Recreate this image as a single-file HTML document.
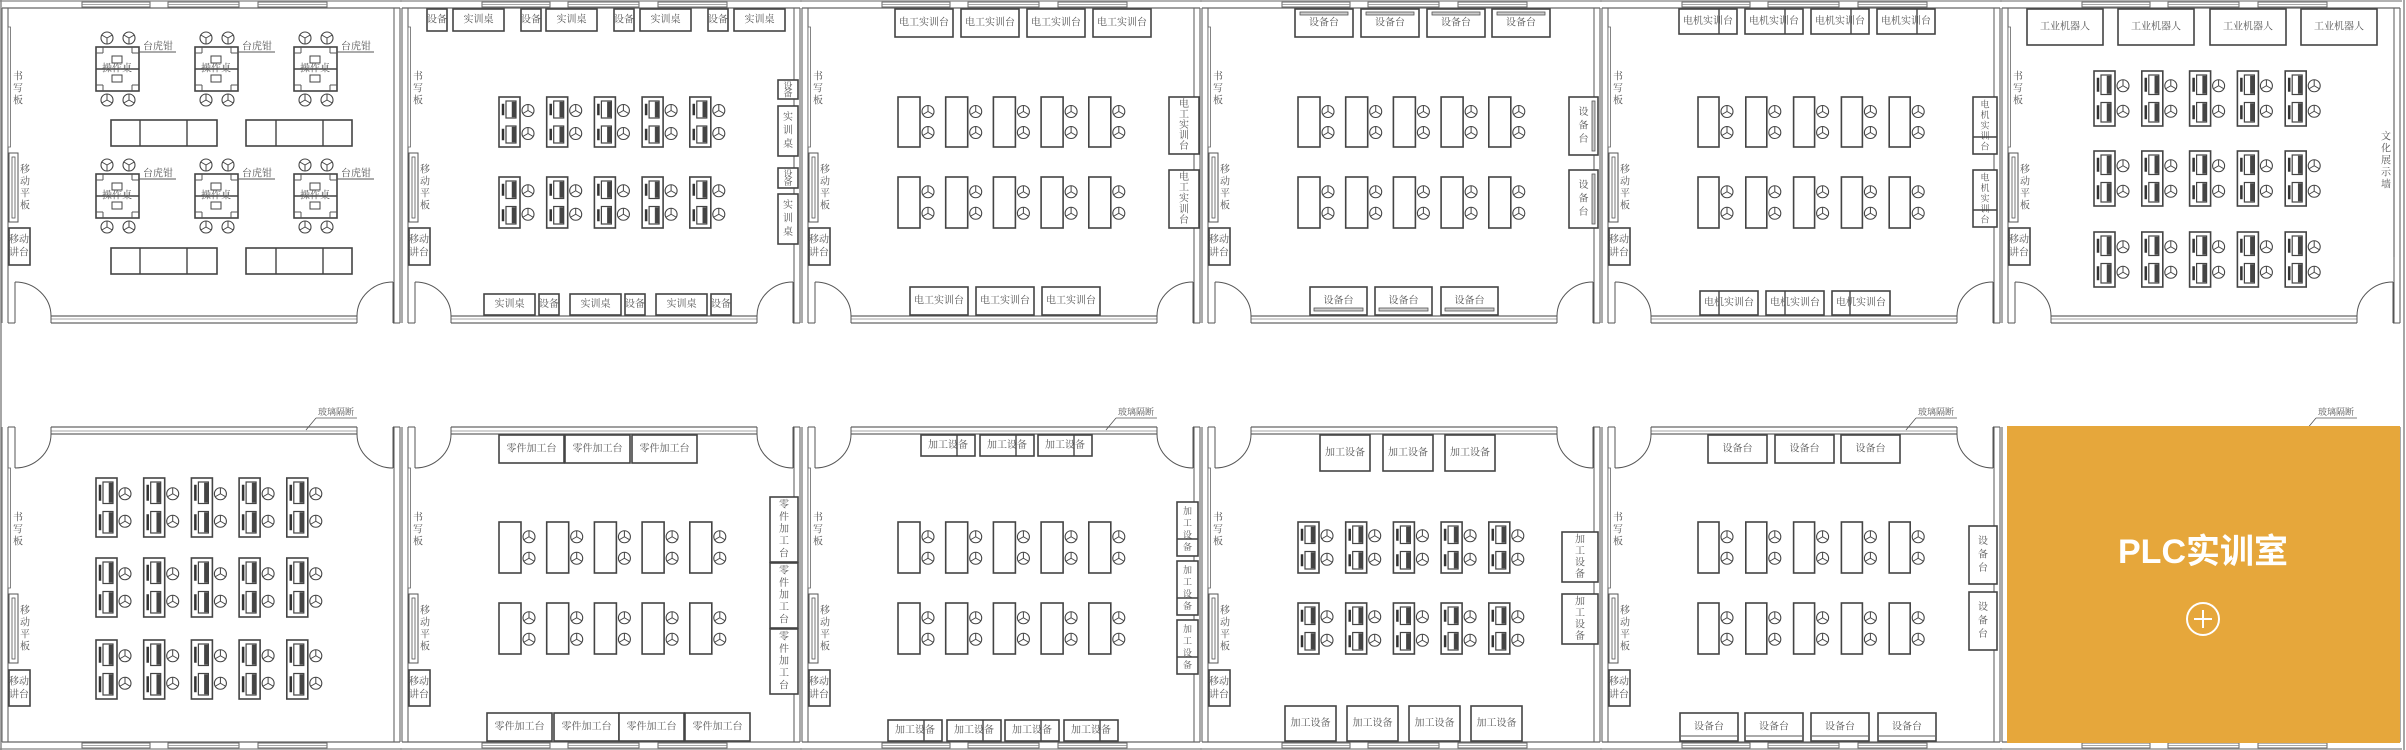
<!DOCTYPE html>
<html><head><meta charset="utf-8">
<style>
html,body{margin:0;padding:0;background:#fff;width:2406px;height:750px;overflow:hidden}
svg text{font-family:"Liberation Serif","Noto Serif CJK SC","Noto Sans CJK SC",serif;fill:#555}
</style></head>
<body>
<svg id="s" xmlns="http://www.w3.org/2000/svg" width="2406" height="750" viewBox="0 0 2406 750"></svg>
<script>
var S=document.getElementById('s'),out=[];
function R(x,y,w,h,sw,fill,st){out.push('<rect x="'+x+'" y="'+y+'" width="'+w+'" height="'+h+'" fill="'+(fill||'none')+'" stroke="'+(st||'#444')+'" stroke-width="'+(sw||1.3)+'"/>');}
function L(x1,y1,x2,y2,sw,c){out.push('<line x1="'+x1+'" y1="'+y1+'" x2="'+x2+'" y2="'+y2+'" stroke="'+(c||'#555')+'" stroke-width="'+(sw||1)+'"/>');}
function P(d,sw){out.push('<path d="'+d+'" fill="none" stroke="#555" stroke-width="'+(sw||1)+'"/>');}
function T(x,y,s,fs){out.push('<text x="'+x+'" y="'+y+'" font-size="'+(fs||10)+'" text-anchor="middle" dominant-baseline="central">'+s+'</text>');}
function VT(x,y,s,fs,lh){for(var i=0;i<s.length;i++)T(x,y+i*lh,s[i],fs);}
function BX(x,y,w,h,s,fs){R(x,y,w,h,1.6,'#fff');T(x+w/2,y+h/2,s,fs||10);}
function VB(x,y,w,h,s,fs){R(x,y,w,h,1.6,'#fff');var n=s.length,lh=Math.min(fs*1.35,(h-4)/n);VT(x+w/2,y+h/2-(n-1)*lh/2,s,fs,lh);}
function chair(cx,cy,r,flip){out.push('<circle cx="'+cx+'" cy="'+cy+'" r="'+r+'" fill="none" stroke="#444" stroke-width="1.1"/>');
 var a=flip?[90,210,330]:[270,30,150];a.forEach(function(d){var t=d*Math.PI/180;L(cx,cy,cx+r*Math.cos(t),cy+r*Math.sin(t),1,'#444');});}
function compDesk(x,y,w,h){R(x,y,w,h,1.6,'#fff');var hh=h/2;
 for(var k=0;k<2;k++){var yy=y+k*hh+4,uh=hh-8;R(x+3,yy+3,2,uh-6,0.5,'#333','#333');R(x+7,yy,10,uh,1.2,'#fff');R(x+13,yy+1,4,uh-2,0.5,'#444','#444');}
 chair(x+w+8,y+hh/2+1,6);chair(x+w+8,y+hh*1.5-1,6);}
function plainDesk(x,y,w,h){R(x,y,w,h,1.6,'#fff');var hh=h/2;chair(x+w+8,y+hh/2+2,6);chair(x+w+8,y+hh*1.5-2,6);}
function shell(x0,bottom,glass){
 var fy=function(y){return bottom?750-y:y;};
 L(x0+2,fy(8),x0+2,fy(323),1);L(x0+8,fy(8),x0+8,fy(323),1);
 L(x0+394,fy(8),x0+394,fy(323),1);L(x0+400,fy(8),x0+400,fy(323),1);
 L(x0+2,fy(8),x0+400,fy(8),1.2,'#666');L(x0,fy(1),x0+402,fy(1),1.5,'#999');
 [[82,150],[168,239],[258,327]].forEach(function(w){R(x0+w[0],Math.min(fy(2),fy(7)),w[1]-w[0],5,1,'#fff','#666');L(x0+w[0],fy(4.5),x0+w[1],fy(4.5),0.8,'#888');});
 L(x0+51,fy(316),x0+357,fy(316),1.2,'#666');L(x0+51,fy(319),x0+357,fy(319),0.8,'#888');L(x0+51,fy(323),x0+357,fy(323),1.2,'#666');
 L(x0+51,fy(316),x0+51,fy(323));L(x0+357,fy(316),x0+357,fy(323));
 L(x0+8,fy(323),x0+15,fy(323));L(x0+393,fy(323),x0+400,fy(323));
 L(x0+15,fy(282),x0+15,fy(323));L(x0+393,fy(282),x0+393,fy(323));
 P('M'+(x0+15)+' '+fy(282)+' A36 34 0 0 '+(bottom?0:1)+' '+(x0+51)+' '+fy(316));
 P('M'+(x0+393)+' '+fy(282)+' A36 34 0 0 '+(bottom?1:0)+' '+(x0+357)+' '+fy(316));
 var b=bottom?427:8,o=bottom?[41,161,167,236,243,279]:[19,139,145,214,220,257];
 R(x0+8,b+o[0],2.5,o[1]-o[0],0.8,'#fff','#666');VT(x0+18,b+o[0]+50,'书写板',10,12);
 R(x0+9,b+o[2],9,o[3]-o[2],1,'#fff','#555');R(x0+12,b+o[2]+4,3,o[3]-o[2]-8,0.8,'#fff','#555');VT(x0+25,b+o[2]+17,'移动平板',10,12);
 R(x0+9,b+o[4],21,o[5]-o[4],1.6,'#fff');T(x0+19,b+o[4]+12,'移动',10);T(x0+19,b+o[4]+25,'讲台',10);
 if(glass){T(x0+336,412,'玻璃隔断',9);L(x0+316,418,x0+357,418,0.8);L(x0+316,418,x0+306,430,0.8);}
}
var i,j;
for(i=0;i<6;i++){shell(i*400,false,false);}
for(i=0;i<6;i++){shell(i*400,true,[1,0,1,0,1,1][i]);}
L(1,0,1,750,1.5,'#888');L(2404,0,2404,750,1.5,'#888');
[96,195,294].forEach(function(x){[47,174].forEach(function(y){
 R(x,y,43,44,1.6,'#fff');L(x,y+22,x+43,y+22,1.4,'#444');R(x+16,y+9,10,7,1,'#fff');R(x+16,y+28,10,7,1,'#fff');
 L(x+36,y,x+36,y+6);L(x+36,y+6,x+43,y+6);L(x+7,y,x+7,y+6);L(x,y+6,x+7,y+6);L(x,y+38,x+7,y+38);L(x+7,y+38,x+7,y+44);L(x+36,y+38,x+43,y+38);L(x+36,y+38,x+36,y+44);
 T(x+21,y+22,'操作桌',10);
 chair(x+11,y-9,6,1);chair(x+33,y-9,6,1);chair(x+11,y+53,6);chair(x+33,y+53,6);
 T(x+62,y,'台虎钳',10);L(x+43,y+5,x+80,y+5,1);});});
[120,248].forEach(function(y){[[111,140,187,217],[246,276,323,352]].forEach(function(a){R(a[0],y,a[3]-a[0],26,1.6,'#fff');L(a[1],y,a[1],y+26,1.4,'#444');L(a[2],y,a[2],y+26,1.4,'#444');});});
[[427,453],[521,546],[614,640],[708,734]].forEach(function(a){BX(a[0],9,20,22,'设备',10);BX(a[1],9,51,22,'实训桌',10);});
VB(778,80,20,19,'设备',9);VB(778,106,20,50,'实训桌',10);VB(778,168,20,20,'设备',9);VB(778,194,20,50,'实训桌',10);
[[484,539],[570,625],[656,711]].forEach(function(a){BX(a[0],294,51,21,'实训桌',10);BX(a[1],294,20,21,'设备',10);});
for(j=0;j<5;j++){compDesk(499+j*47.7,97,21,50);compDesk(499+j*47.7,177,21,51);}
[895,961,1027,1093].forEach(function(x){BX(x,9,58,28,'电工实训台',10);});
VB(1169,97,30,57,'电工实训台',10);VB(1169,170,30,58,'电工实训台',10);
[910,976,1042].forEach(function(x){BX(x,287,58,28,'电工实训台',10);});
for(j=0;j<5;j++){plainDesk(898+j*47.7,97,22,50);plainDesk(898+j*47.7,177,22,51);}
[1295,1361,1427,1492].forEach(function(x){BX(x,9,58,28,'设备台',10);R(x+5,12,48,3,0.8,'#ccc','#555');});
[97,170].forEach(function(y){VB(1569,y,29,58,'设备台',10);R(1592,y+4,3,50,0.8,'#ccc','#555');});
[1310,1375,1441].forEach(function(x){BX(x,287,57,28,'设备台',10);R(x+4,308,49,3,0.8,'#ccc','#555');});
for(j=0;j<5;j++){plainDesk(1298+j*47.7,97,22,50);plainDesk(1298+j*47.7,177,22,51);}
[[1679,1719],[1745,1785],[1811,1851],[1877,1917]].forEach(function(a){BX(a[0],9,58,25,'电机实训台',10);L(a[1],9,a[1],34,1.4,'#444');});
[97,170].forEach(function(y){VB(1973,y,24,57,'电机实训台',9);L(1973,y+40,1997,y+40,1.4,'#444');});
[[1700,1719],[1766,1785],[1832,1850]].forEach(function(a){BX(a[0],291,58,24,'电机实训台',10);L(a[1],291,a[1],315,1.4,'#444');});
for(j=0;j<5;j++){plainDesk(1698+j*47.8,97,21,50);plainDesk(1698+j*47.8,177,21,51);}
[2027,2118,2210,2301].forEach(function(x){BX(x,9,76,36,'工业机器人',10);});
for(j=0;j<5;j++){[71,151,232].forEach(function(y){compDesk(2094+j*47.8,y,21,55);});}
L(2394,70,2394,257,1.2,'#666');VT(2386,137,'文化展示墙',10,12);
for(j=0;j<5;j++){[478,558,640].forEach(function(y){compDesk(96+j*47.7,y,21,59);});}
[499,565,632].forEach(function(x){BX(x,435,65,28,'零件加工台',10);});
[497,563,629].forEach(function(y){VB(770,y,28,65,'零件加工台',10);});
[487,554,619,685].forEach(function(x){BX(x,713,65,28,'零件加工台',10);});
for(j=0;j<5;j++){plainDesk(499+j*47.7,522,22,51);plainDesk(499+j*47.7,603,22,51);}
[[921,957],[980,1016],[1038,1074]].forEach(function(a){BX(a[0],435,54,21,'加工设备',10);L(a[1],435,a[1],456,1.4,'#444');});
[[502,539],[561,598],[620,657]].forEach(function(a){VB(1177,a[0],21,54,'加工设备',9);L(1177,a[1],1198,a[1],1.4,'#444');});
[[888,924],[947,983],[1005,1041],[1064,1100]].forEach(function(a){BX(a[0],720,54,21,'加工设备',10);L(a[1],720,a[1],741,1.4,'#444');});
for(j=0;j<5;j++){plainDesk(898+j*47.7,522,22,51);plainDesk(898+j*47.7,603,22,51);}
[1320,1383,1445].forEach(function(x){BX(x,435,50,36,'加工设备',10);});
VB(1562,532,36,50,'加工设备',10);VB(1562,594,36,50,'加工设备',10);
[1285,1347,1409,1471].forEach(function(x){BX(x,706,51,35,'加工设备',10);});
for(j=0;j<5;j++){compDesk(1298+j*47.7,522,21,51);compDesk(1298+j*47.7,603,21,51);}
[1708,1775,1841].forEach(function(x){BX(x,435,59,28,'设备台',10);});
VB(1969,526,28,58,'设备台',10);VB(1969,592,28,58,'设备台',10);
[1680,1745,1811,1878].forEach(function(x){BX(x,713,58,28,'设备台',10);L(x+1,736,x+57,736,1,'#555');});
for(j=0;j<5;j++){plainDesk(1698+j*47.8,522,21,51);plainDesk(1698+j*47.8,603,21,51);}
out.push('<rect x="2007" y="426" width="393" height="317" fill="#E6A73B"/>');
out.push('<text x="2203" y="552" font-size="34" font-weight="bold" text-anchor="middle" dominant-baseline="central" style="fill:#fff;font-family:\'Liberation Sans\',\'Noto Sans CJK SC\',sans-serif">PLC实训室</text>');
out.push('<circle cx="2203" cy="619" r="16" fill="none" stroke="#fff" stroke-width="2"/><line x1="2194" y1="619" x2="2212" y2="619" stroke="#fff" stroke-width="2"/><line x1="2203" y1="610" x2="2203" y2="628" stroke="#fff" stroke-width="2"/>');
S.innerHTML=out.join('');
</script>
</body></html>
